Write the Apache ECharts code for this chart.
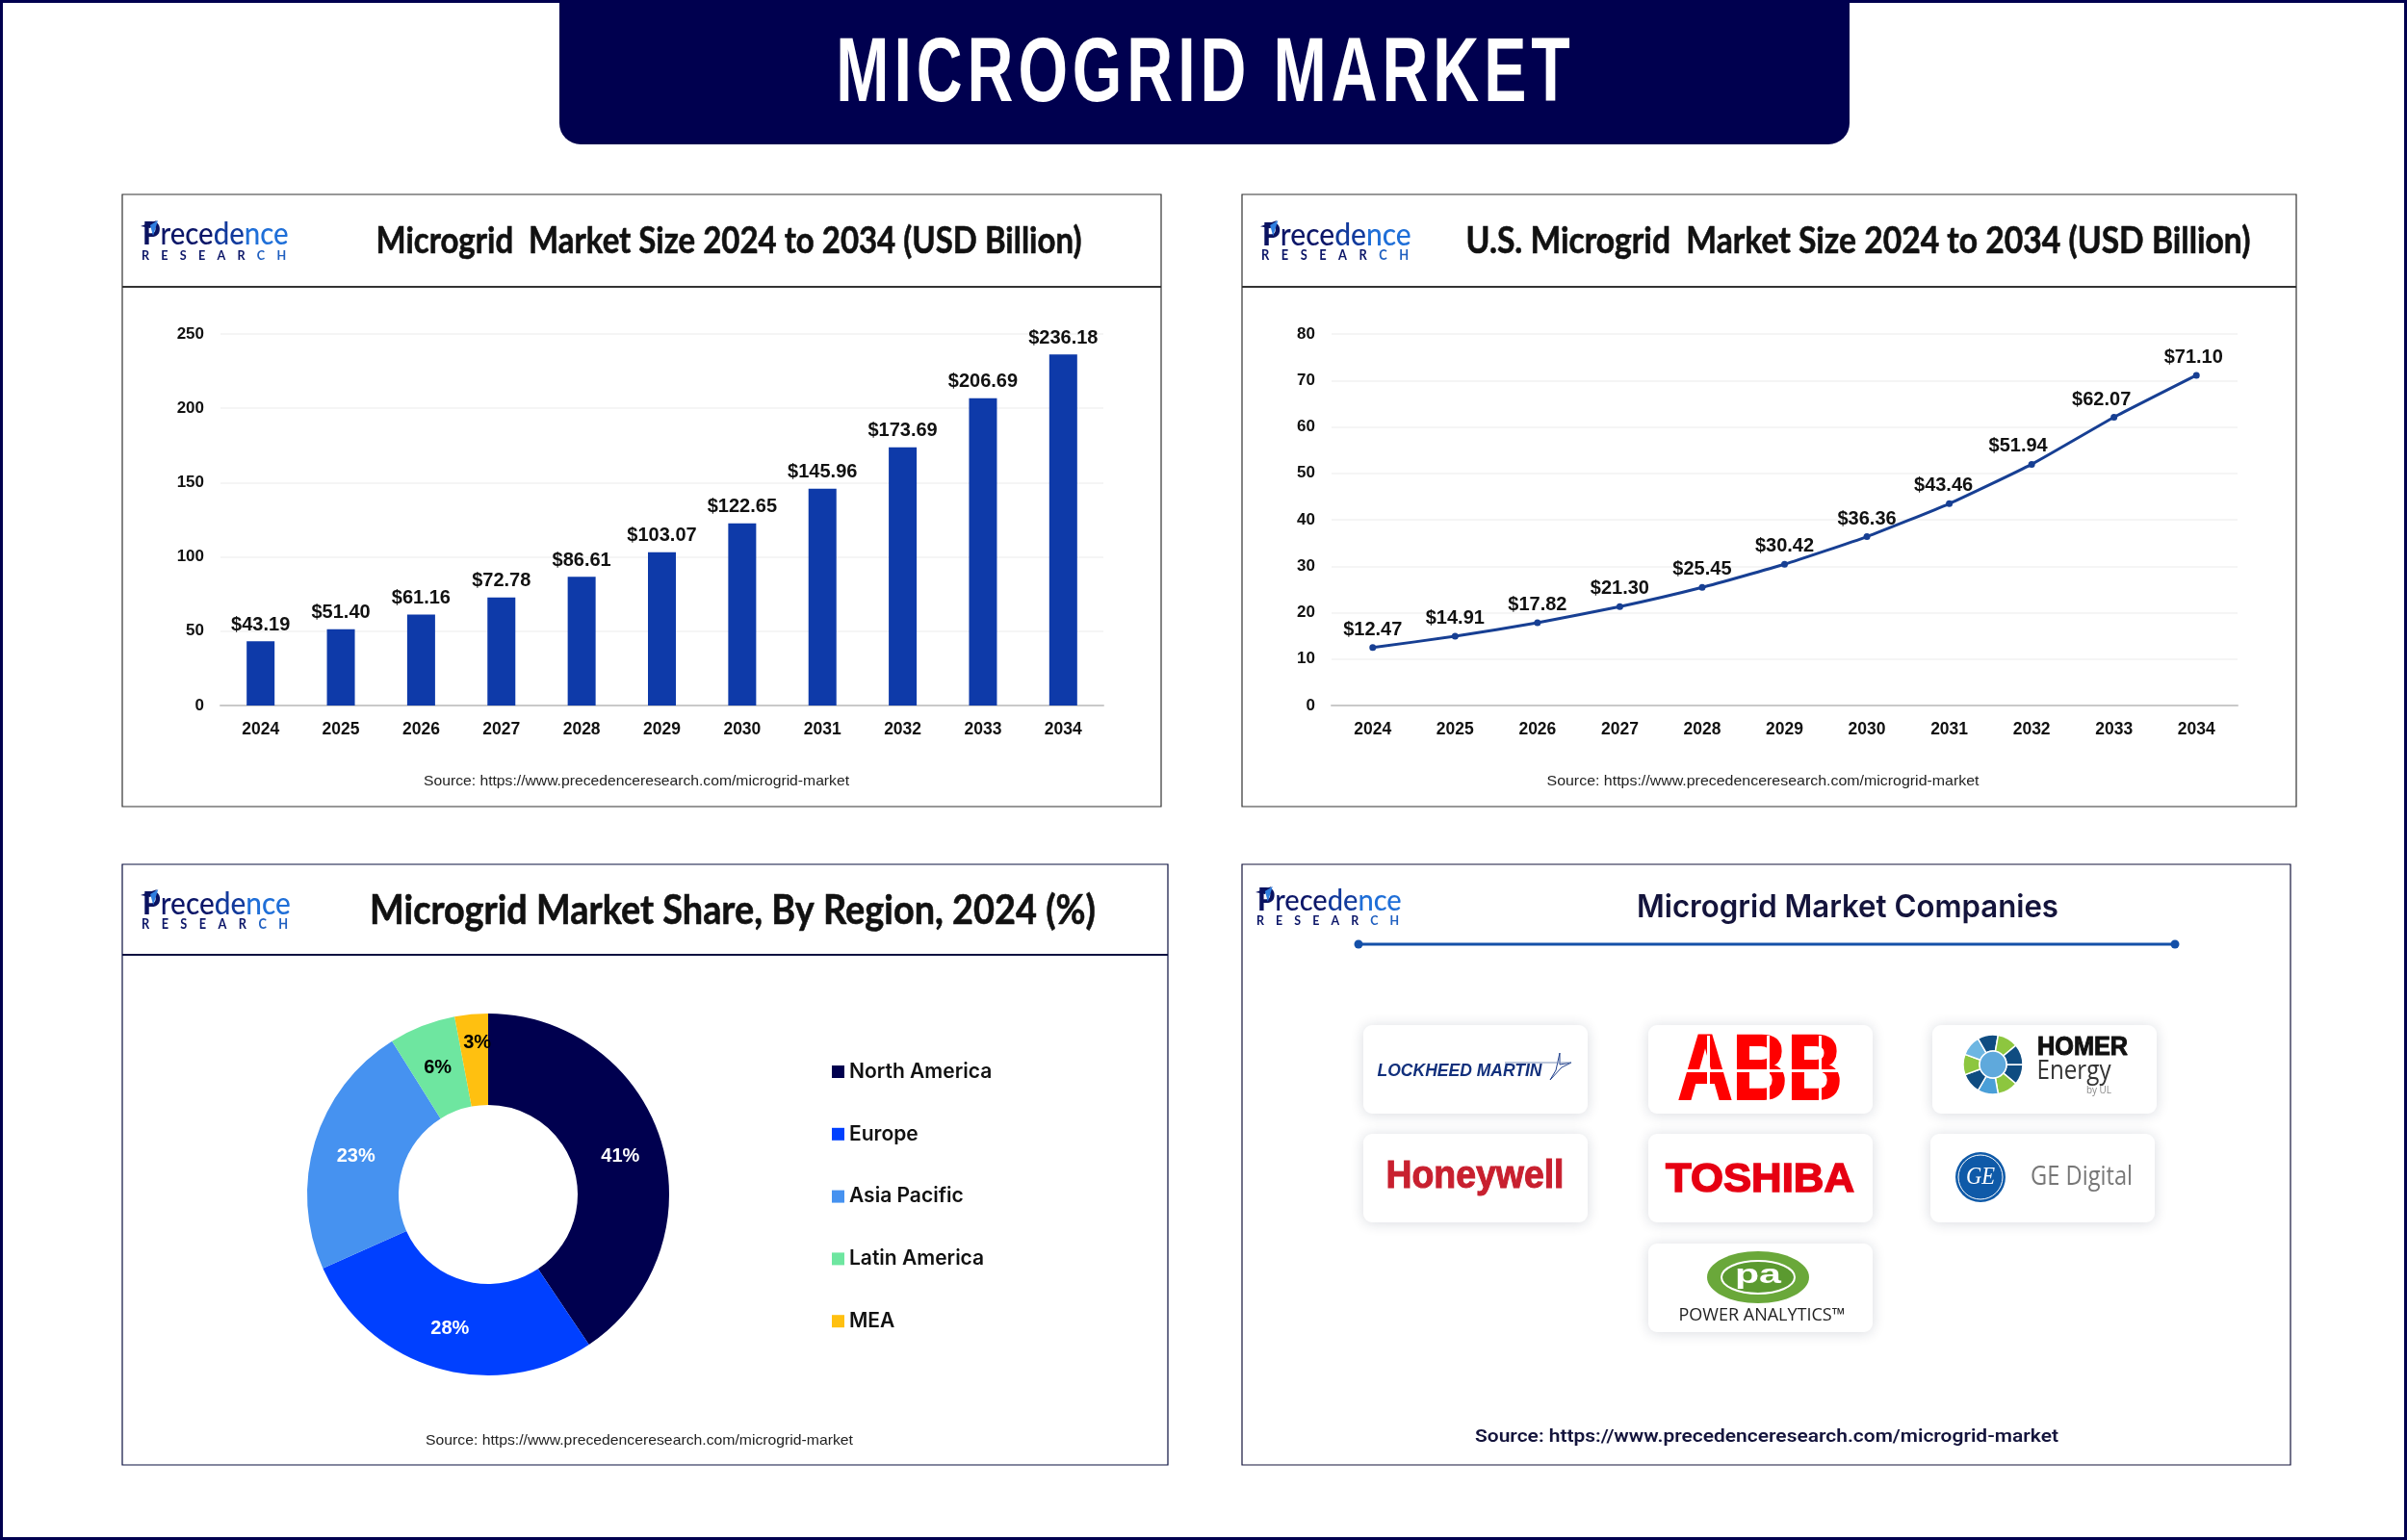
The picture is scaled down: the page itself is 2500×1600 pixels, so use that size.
<!DOCTYPE html>
<html>
<head>
<meta charset="utf-8">
<title>Microgrid Market</title>
<script src="https://cdn.jsdelivr.net/npm/echarts@6/dist/echarts.min.js"></script>
<style>
html,body{margin:0;padding:0;background:#fff;}
#main{width:2500px;height:1600px;}
</style>
</head>
<body>
<div id="main"></div>
<script>
// data
var years = ['2024','2025','2026','2027','2028','2029','2030','2031','2032','2033','2034'];
var globalSize = [43.19,51.40,61.16,72.78,86.61,103.07,122.65,145.96,173.69,206.69,236.18];
var usSize = [12.47,14.91,17.82,21.30,25.45,30.42,36.36,43.46,51.94,62.07,71.10];
var regions = ['North America','Europe','Asia Pacific','Latin America','MEA'];
var regionShare = [41,28,23,6,3];

var NAVY = '#00004f';
var labelFont = 'Liberation Sans';
var chart = echarts.init(document.getElementById('main'));

// title gets wider letter gaps, canvas text has no option for it so set on own layer
var titleLayer = chart.getZr().painter.getLayer(1);
titleLayer.ctx.letterSpacing = '7px';

var measureCtx = document.createElement('canvas').getContext('2d');
function textWidth(str, font){
    measureCtx.font = font;
    return measureCtx.measureText(str).width;
}
// text squeezed to the width it has in the picture
function fitText(str, font, cx, cy, width, fill, extra){
    var el = {
        type:'text', x:cx, y:cy,
        scaleX: width / textWidth(str, font),
        style:{text:str, font:font, fill:fill, align:'center', verticalAlign:'middle'}
    };
    if(extra){ for(var k in extra){ el.style[k] = extra[k]; } }
    return el;
}
function panel(x,y,w,h,lineY,color){
    var list = [{type:'rect', shape:{x:x,y:y,width:w,height:h}, style:{fill:'none',stroke:color,lineWidth:1.2}}];
    if(lineY){
        list.push({type:'line', shape:{x1:x,y1:lineY,x2:x+w,y2:lineY}, style:{stroke:color,lineWidth:2}});
    }
    return list;
}
function logo(x,y,w){
    var f = w/153;
    return {type:'group', x:x, y:y, scaleX:f, scaleY:f, children:[
        {type:'text', x:2, y:16, scaleX:0.92, style:{
            text:'{p|P}{a|rece}{b|de}{c|nce}', verticalAlign:'middle', align:'left',
            rich:{
                p:{font:'900 32px Lato', fill:'#0a1260'},
                a:{font:'500 32px Lato', fill:'#0c1668'},
                b:{font:'500 32px Lato', fill:'#123a9c'},
                c:{font:'500 32px Lato', fill:'#1f6fd8'}
            }
        }},
        {type:'polygon', shape:{points:[[0,7],[17,1],[10,9]]}, style:{fill:'#0a1260'}},
        {type:'polygon', shape:{points:[[10,6],[18,1],[13,17]]}, style:{fill:'#2f7fe0'}},
        {type:'text', x:1, y:37, scaleX:0.9, style:{
            text:'{a|R    E    S    E    A    R}{b|    C    H}', verticalAlign:'middle', align:'left',
            rich:{
                a:{font:'700 14px Lato', fill:'#0c1668'},
                b:{font:'700 14px Lato', fill:'#1f5fc0'}
            }
        }}
    ]};
}
function card(x,y,w,h){
    return {type:'rect', shape:{x:x,y:y,width:w,height:h,r:9},
        style:{fill:'#fff',shadowBlur:14,shadowColor:'rgba(20,30,60,0.16)',shadowOffsetY:1}};
}
function companyLogos(){
    var g = [];
    // cards
    var colX = [1416,1712,2007], rowY = [1065,1178,1292];
    g.push(card(colX[0],rowY[0],233,92), card(colX[1],rowY[0],233,92), card(colX[2],rowY[0],233,92));
    g.push(card(colX[0],rowY[1],233,92), card(colX[1],rowY[1],233,92), card(2005,rowY[1],233,92));
    g.push(card(colX[1],rowY[2],233,92));
    // lockheed martin
    g.push(fitText('LOCKHEED MARTIN','italic 700 18px "Liberation Sans"',1516,1113,171,'#12307c'));
    g.push({type:'polyline', shape:{points:[[1620,1094],[1616,1112],[1610,1122],[1622,1109],[1632,1104],[1620,1106],[1620,1094]]}, style:{fill:'none',stroke:'#1f3f8c',lineWidth:1}});
    g.push({type:'line', shape:{x1:1563,y1:1104,x2:1632,y2:1104}, style:{stroke:'#7d90b8',lineWidth:1}});
    // abb
    g.push(fitText('ABB','700 96px "Liberation Sans"',1828,1116,171,'#ff0000',{stroke:'#ff0000',lineWidth:2}));
    g.push({type:'rect', shape:{x:1742,y:1111,width:174,height:3}, style:{fill:'#fff'}});
    g.push({type:'rect', shape:{x:1773,y:1076,width:3,height:70}, style:{fill:'#fff'}});
    g.push({type:'rect', shape:{x:1835,y:1076,width:3,height:70}, style:{fill:'#fff'}});
    g.push({type:'rect', shape:{x:1889,y:1076,width:3,height:70}, style:{fill:'#fff'}});
    // homer energy
    var homerColors = ['#0f4c81','#8dc63f','#4a9fd8','#0f4c81','#8dc63f','#6db6e2','#0f4c81','#8dc63f','#0f4c81'];
    for(var i=0;i<homerColors.length;i++){
        g.push({type:'sector', shape:{cx:2070,cy:1106,r:31,r0:i%2?0:14,startAngle:i*Math.PI*2/9,endAngle:(i+1)*Math.PI*2/9},
            style:{fill:homerColors[i],stroke:'#fff',lineWidth:1.5}});
    }
    g.push({type:'circle', shape:{cx:2070,cy:1106,r:14}, style:{fill:'#5fa9dc',stroke:'#fff',lineWidth:1.5}});
    g.push(fitText('HOMER','800 27px "Liberation Sans"',2163,1089,94,'#111',{stroke:'#111',lineWidth:1}));
    g.push(fitText('Energy','400 27px "Open Sans"',2154,1113,77,'#333'));
    g.push(fitText('by UL','400 11px "Open Sans"',2180,1133,26,'#888'));
    // honeywell
    g.push(fitText('Honeywell','700 40px "Liberation Sans"',1532,1223,185,'#c8202f',{stroke:'#c8202f',lineWidth:1}));
    // toshiba
    g.push(fitText('TOSHIBA','700 43px "Liberation Sans"',1828,1226,196,'#e60012',{stroke:'#e60012',lineWidth:1.5}));
    // ge digital
    g.push({type:'circle', shape:{cx:2057,cy:1223,r:26}, style:{fill:'#0f5aa8'}});
    g.push({type:'circle', shape:{cx:2057,cy:1223,r:23}, style:{fill:'#0f5aa8',stroke:'#fff',lineWidth:1}});
    g.push(fitText('GE','italic 400 26px "Liberation Serif"',2057,1223,30,'#fff'));
    g.push(fitText('GE Digital','400 27px "Open Sans"',2162,1223,106,'#777'));
    // power analytics
    g.push({type:'ellipse', shape:{cx:1826,cy:1327,rx:53,ry:27}, style:{fill:'#6aa83a'}});
    g.push({type:'ellipse', shape:{cx:1826,cy:1327,rx:38,ry:17}, style:{fill:'#5b9a30',stroke:'#fff',lineWidth:2}});
    g.push(fitText('pa','700 28px "Liberation Sans"',1826,1325,48,'#fff'));
    g.push(fitText('POWER ANALYTICS\u2122','500 18px "Open Sans"',1830,1367,173,'#222'));
    return g;
}

var graphics = [];
// page frame and header
graphics.push({type:'rect', shape:{x:1.5,y:1.5,width:2497,height:1597}, style:{fill:'none',stroke:NAVY,lineWidth:3}});
graphics.push({type:'rect', shape:{x:581,y:0,width:1340,height:150,r:[0,0,22,22]}, style:{fill:NAVY}});
graphics.push({type:'text', zlevel:1, x:1252, y:79, scaleX:0.705, style:{
    text:'MICROGRID MARKET', font:'700 94px "Liberation Sans Narrow", "Liberation Sans"', fill:'#fff', align:'center', verticalAlign:'middle'
}});
// panels
graphics = graphics.concat(panel(127,202,1079,636,298,'#333'));
graphics = graphics.concat(panel(1290,202,1095,636,298,'#333'));
graphics = graphics.concat(panel(127,898,1086,624,992,'#0a1040'));
graphics = graphics.concat(panel(1290,898,1089,624,null,'#14143c'));
// panel titles
var titleStroke = {stroke:'#111',lineWidth:0.6};
graphics.push(fitText('Microgrid  Market Size 2024 to 2034 (USD Billion)','700 38px Lato',757,251,733,'#111',titleStroke));
graphics.push(fitText('U.S. Microgrid  Market Size 2024 to 2034 (USD Billion)','700 38px Lato',1930,251,815,'#111',titleStroke));
graphics.push(fitText('Microgrid Market Share, By Region, 2024 (%)','700 42px Lato',761,946,754,'#111',titleStroke));
graphics.push(fitText('Microgrid Market Companies','600 32px Inter',1919,943,438,'#14143c'));
// logos
graphics.push(logo(146,228,153), logo(1309,228,156), logo(146,923,155), logo(1304,920,151));
// sources
var src = 'Source: https://www.precedenceresearch.com/microgrid-market';
graphics.push(fitText(src,'400 15px "Liberation Sans"',661,812,442,'#222'));
graphics.push(fitText(src,'400 15px "Liberation Sans"',1831,812,449,'#222'));
graphics.push(fitText(src,'400 15px "Liberation Sans"',664,1497,444,'#222'));
graphics.push(fitText(src,'600 19px Roboto',1835,1493,606,'#14143c'));
// companies line
graphics.push({type:'line', shape:{x1:1411,y1:981,x2:2259,y2:981}, style:{stroke:'#1450a8',lineWidth:3}});
graphics.push({type:'circle', shape:{cx:1411,cy:981,r:4.5}, style:{fill:'#1450a8'}});
graphics.push({type:'circle', shape:{cx:2259,cy:981,r:4.5}, style:{fill:'#1450a8'}});
graphics = graphics.concat(companyLogos());

function catAxis(idx){
    return {
        type:'category', gridIndex:idx, data:years,
        axisLine:{lineStyle:{color:'#c9c9c9',width:2}},
        axisTick:{show:false},
        axisLabel:{color:'#111',fontFamily:labelFont,fontWeight:700,fontSize:17.5,margin:16,interval:0}
    };
}
function valAxis(idx,max,step){
    return {
        type:'value', gridIndex:idx, min:0, max:max, interval:step,
        axisLine:{show:false},
        axisTick:{show:false},
        splitLine:{lineStyle:{color:'#f2f2f2',width:1.5}},
        axisLabel:{color:'#111',fontFamily:labelFont,fontWeight:700,fontSize:17,margin:17}
    };
}
function dollar(p){ return '$'+p.value.toFixed(2); }

// the source moved a few line labels left of their points
var lineLabelShift = [0,0,0,0,0,0,0,-6,-14,-13,-3];
var usData = usSize.map(function(v,i){
    return {value:v, label:{offset:[lineLabelShift[i],0]}};
});
var shareLabelColor = ['#fff','#fff','#fff','#000','#000'];
var shareColors = [NAVY,'#0040ff','#4692f0','#6ee6a0','#ffc010'];
var shareData = regionShare.map(function(v,i){
    return {name:regions[i], value:v, itemStyle:{color:shareColors[i]},
        label:{color:shareLabelColor[i], offset:i==4?[2,-15]:[0,2]}};
});

var option = {
    animation:false,
    backgroundColor:'#fff',
    grid:[
        {left:229,top:347,width:917,height:386},
        {left:1383,top:347,width:941,height:386}
    ],
    xAxis:[catAxis(0),catAxis(1)],
    yAxis:[valAxis(0,250,50),valAxis(1,80,10)],
    legend:{
        orient:'vertical', left:864, top:1103, padding:0, itemWidth:13, itemHeight:13, itemGap:43.8,
        icon:'rect',
        data:regions,
        textStyle:{color:'#111',fontFamily:'Inter',fontWeight:600,fontSize:21,lineHeight:20}
    },
    series:[
        {
            type:'bar', xAxisIndex:0, yAxisIndex:0, data:globalSize, barWidth:29,
            itemStyle:{color:'#0e3aa9'},
            label:{show:true,position:'top',distance:7,formatter:dollar,color:'#111',fontFamily:labelFont,fontWeight:700,fontSize:20}
        },
        {
            type:'line', xAxisIndex:1, yAxisIndex:1, data:usData, smooth:0.15,
            lineStyle:{color:'#173f93',width:3},
            itemStyle:{color:'#173f93'},
            symbol:'circle', symbolSize:7,
            label:{show:true,position:'top',distance:5,formatter:dollar,color:'#111',fontFamily:labelFont,fontWeight:700,fontSize:20}
        },
        {
            type:'pie', center:[507,1241], radius:[93,188], startAngle:90, clockwise:true,
            data:shareData,
            label:{show:true,position:'inside',formatter:'{c}%',fontFamily:labelFont,fontWeight:700,fontSize:20},
            labelLine:{show:false}
        }
    ],
    graphic:{elements:graphics}
};
chart.setOption(option);
</script>
</body>
</html>
